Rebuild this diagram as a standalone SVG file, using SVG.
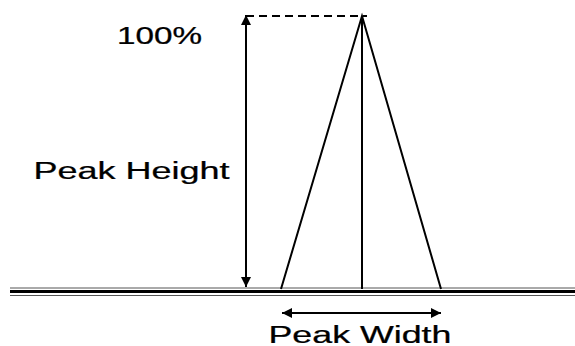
<svg xmlns="http://www.w3.org/2000/svg" width="575" height="346" viewBox="0 0 575 346">
<style>
.ln{stroke:#000;stroke-width:2;fill:none}
.lbl{font-family:"Liberation Sans",Arial,sans-serif;font-size:24px;fill:#000;stroke:#000;stroke-width:0.25}
</style>
<defs>
<marker id="ah" viewBox="0 0 10 10" refX="10" refY="5" markerWidth="5.5" markerHeight="5" orient="auto-start-reverse" markerUnits="strokeWidth">
<path d="M0,0 L10,5 L0,10 Z" fill="#000"/>
</marker>
</defs>
<rect width="575" height="346" fill="#fff"/>
<g id="baseline">
<line x1="10" y1="288" x2="575" y2="288" stroke="#555" stroke-width="1"/>
<line x1="10" y1="291.5" x2="575" y2="291.5" stroke="#000" stroke-width="2.8"/>
<line x1="10" y1="295.5" x2="575" y2="295.5" stroke="#555" stroke-width="1"/>
</g>
<g id="peak">
<polyline class="ln" points="281,289 362,16 441,289"/>
<line class="ln" x1="362" y1="16" x2="362" y2="289"/>
</g>
<g id="connectors">
<line class="ln" x1="246" y1="15" x2="246" y2="287" marker-start="url(#ah)" marker-end="url(#ah)"/>
<line x1="246" y1="16" x2="367" y2="16" stroke="#000" stroke-width="2" stroke-dasharray="8,5"/>
<line class="ln" x1="282" y1="313" x2="441" y2="313" marker-start="url(#ah)" marker-end="url(#ah)"/>
</g>
<g id="label-100">
<text class="lbl" transform="translate(117,43.5) scale(1.45,1)" x="0" y="0" textLength="58.6" lengthAdjust="spacingAndGlyphs" style="font-size:23px">100%</text>
</g>
<g id="label-height">
<text class="lbl" transform="translate(33.5,178.5) scale(1.5,1)" x="0" y="0" textLength="130.7" lengthAdjust="spacingAndGlyphs">Peak Height</text>
</g>
<g id="label-width">
<text class="lbl" transform="translate(268.5,342.5) scale(1.49,1)" x="0" y="0" textLength="122.8" lengthAdjust="spacingAndGlyphs">Peak Width</text>
</g>
</svg>
